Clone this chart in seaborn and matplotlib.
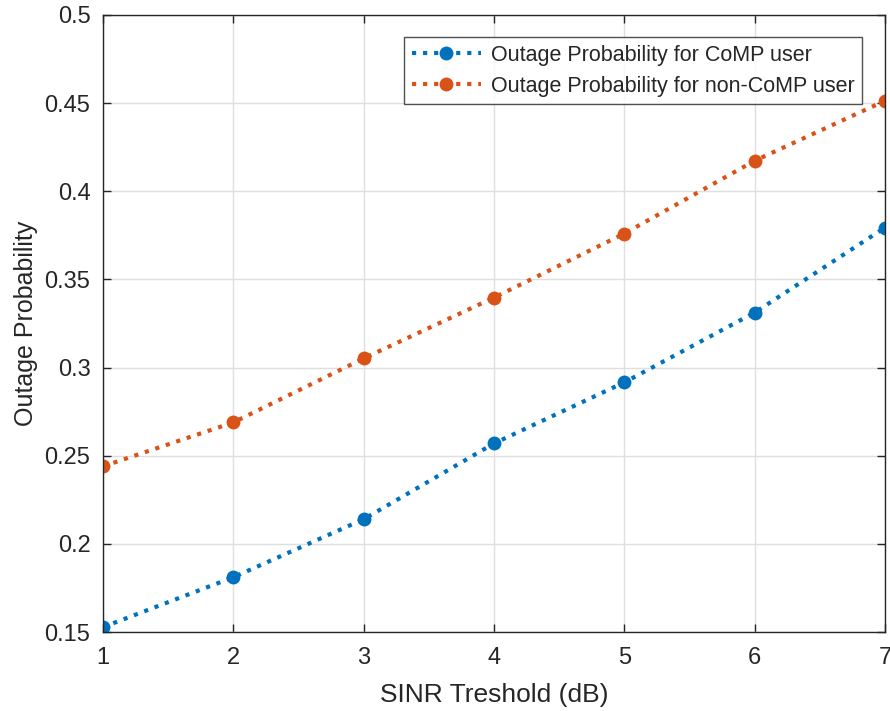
import matplotlib
matplotlib.use("Agg")
import matplotlib.pyplot as plt
import seaborn as sns
import pandas as pd

sinr = [1, 2, 3, 4, 5, 6, 7]
comp = [0.1528, 0.1811, 0.2140, 0.2570, 0.2916, 0.3312, 0.3794]
noncomp = [0.2440, 0.2689, 0.3052, 0.3397, 0.3760, 0.4173, 0.4513]
labels = ["Outage Probability for CoMP user", "Outage Probability for non-CoMP user"]
colors = ["#0072BD", "#D95319"]
xticks = [1, 2, 3, 4, 5, 6, 7]
yticks = [0.15, 0.2, 0.25, 0.3, 0.35, 0.4, 0.45, 0.5]

sns.set_theme(style="white")
plt.rcParams['font.family'] = ['Liberation Sans', 'DejaVu Sans']

df = pd.DataFrame({
    "x": sinr * 2,
    "y": comp + noncomp,
    "series": [labels[0]] * len(sinr) + [labels[1]] * len(sinr),
})

fig = plt.figure(figsize=(8.9, 7.11), dpi=100)
ax = fig.add_axes([0.1157, 0.111, 0.8787, 0.868])

sns.lineplot(data=df, x="x", y="y", hue="series", palette=colors, ax=ax,
             linestyle=":", linewidth=3, marker="o", markersize=10,
             markeredgewidth=0, legend=True)

ax.set_xlim(1, 7)
ax.set_ylim(0.15, 0.5)
ax.set_xticks(xticks)
ax.set_yticks(yticks)
ax.set_xticklabels([str(t) for t in xticks])
ax.set_yticklabels(["0.15", "0.2", "0.25", "0.3", "0.35", "0.4", "0.45", "0.5"])
ax.grid(True, color="#dfdfdf", linewidth=1)
ax.set_axisbelow(True)
for s in ax.spines.values():
    s.set_color("#262626")
    s.set_linewidth(1)
ax.tick_params(axis="both", direction="in", length=6, width=1, colors="#262626",
               labelsize=17, top=True, right=True, bottom=True, left=True)
ax.tick_params(axis="y", pad=9)
ax.tick_params(axis="x", pad=11)
ax.set_xlabel("SINR Treshold (dB)", fontsize=19, color="#262626", labelpad=10)
ax.set_ylabel("Outage Probability", fontsize=18, color="#262626", labelpad=5)

leg = ax.legend(loc="upper right", bbox_to_anchor=(0.9706, 0.964), fontsize=15.5,
                frameon=True, fancybox=False, handlelength=3.2, borderpad=0.35,
                labelspacing=0.47, handletextpad=0.47, borderaxespad=0)
leg.get_frame().set_edgecolor("#262626")
leg.get_frame().set_linewidth(1)
for line in leg.get_lines():
    line.set_linestyle(":")
    line.set_linewidth(3)

fig.savefig("out.png", dpi=100)
